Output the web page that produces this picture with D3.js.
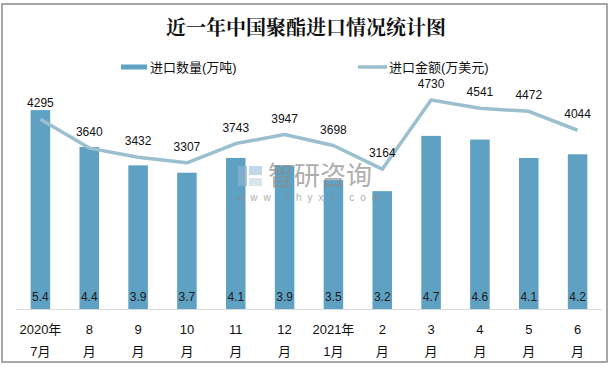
<!DOCTYPE html>
<html><head><meta charset="utf-8">
<script src="https://cdn.jsdelivr.net/npm/d3@7/dist/d3.min.js"></script>
<style>
html,body{margin:0;padding:0;background:#fff;}
svg{display:block;}
text{font-family:"Liberation Sans","Noto Sans CJK SC",sans-serif;}
</style></head>
<body>
<svg id="c" width="612" height="368"></svg>
<script>
const categories = ["2020年7月","8月","9月","10月","11月","12月","2021年1月","2月","3月","4月","5月","6月"];
const tickLine1 = ["2020年","8","9","10","11","12","2021年","2","3","4","5","6"];
const tickLine2 = ["7月","月","月","月","月","月","1月","月","月","月","月","月"];
const quantity = [5.4,4.4,3.9,3.7,4.1,3.9,3.5,3.2,4.7,4.6,4.1,4.2];
const amount = [4295,3640,3432,3307,3743,3947,3698,3164,4730,4541,4472,4044];
const seriesNames = ["进口数量(万吨)","进口金额(万美元)"];
const title = "近一年中国聚酯进口情况统计图";

const barColor = "#5ea1c2", lineColor = "#9bbfcf";
const svg = d3.select("#c");

// frame
svg.append("rect").attr("x",2).attr("y",4).attr("width",605).attr("height",358)
  .attr("fill","#fff").attr("stroke","#8a8a8a").attr("stroke-width",1.5);

const x = d3.scaleBand().domain(categories).range([16,602]).paddingInner(0.6).paddingOuter(0.3);
const yBar = d3.scaleLinear().domain([0,6]).range([309,88]);
const yLine = d3.scaleLinear().domain([0,5000]).range([309,88]);

// title
svg.append("text").attr("x",306).attr("y",35).attr("text-anchor","middle")
  .style("font-family",'"Noto Serif CJK SC","Noto Sans CJK SC",serif')
  .style("font-size","20px").style("font-weight","bold").attr("fill","#111").text(title);

// legend
const lg = svg.append("g");
lg.append("rect").attr("x",121).attr("y",64.5).attr("width",26).attr("height",5).attr("fill",barColor);
lg.append("text").attr("x",150).attr("y",71.5).style("font-size","13px").attr("fill","#111").text(seriesNames[0]);
lg.append("line").attr("x1",358).attr("x2",387).attr("y1",67).attr("y2",67).attr("stroke",lineColor).attr("stroke-width",3.5);
lg.append("text").attr("x",389).attr("y",71.5).style("font-size","13px").attr("fill","#111").text(seriesNames[1]);

// axis baseline
svg.append("line").attr("x1",16).attr("x2",602).attr("y1",309.5).attr("y2",309.5).attr("stroke","#d9d9d9").attr("stroke-width",1);

// bars
svg.append("g").selectAll("rect").data(quantity).join("rect")
  .attr("x",(d,i)=>x(categories[i])).attr("width",x.bandwidth())
  .attr("y",d=>yBar(d)).attr("height",d=>yBar(0)-yBar(d)).attr("fill",barColor);

// bar labels
svg.append("g").selectAll("text").data(quantity).join("text")
  .attr("x",(d,i)=>x(categories[i])+x.bandwidth()/2).attr("y",300.5)
  .attr("text-anchor","middle").style("font-size","12px").attr("fill","#1a1a1a")
  .text(d=>d.toFixed(1));

// line
const cx = i => x(categories[i])+x.bandwidth()/2;
svg.append("path").datum(amount)
  .attr("d",d3.line().x((d,i)=>cx(i)).y(d=>yLine(d)))
  .attr("fill","none").attr("stroke",lineColor).attr("stroke-width",3.5).attr("stroke-linejoin","round");

svg.append("g").selectAll("text").data(amount).join("text")
  .attr("x",(d,i)=>cx(i)).attr("y",d=>yLine(d)-12)
  .attr("text-anchor","middle").style("font-size","12px").attr("fill","#111")
  .text(d=>d);

// x tick labels
const xl = svg.append("g");
xl.selectAll("text.l1").data(tickLine1).join("text").attr("class","l1")
  .attr("x",(d,i)=>cx(i)).attr("y",334).attr("text-anchor","middle")
  .style("font-size","13px").attr("fill","#111").text(d=>d);
xl.selectAll("text.l2").data(tickLine2).join("text").attr("class","l2")
  .attr("x",(d,i)=>cx(i)).attr("y",356).attr("text-anchor","middle")
  .style("font-size","13px").attr("fill","#111").text(d=>d);

// watermark
const wm = svg.append("g").attr("opacity",0.7);
wm.append("rect").attr("x",238).attr("y",166).attr("width",9).attr("height",20).attr("fill","#8fb3d0");
wm.append("rect").attr("x",249).attr("y",166).attr("width",13).attr("height",9).attr("fill","#a9c8e0");
wm.append("rect").attr("x",249).attr("y",178).attr("width",13).attr("height",8).attr("fill","#c7dbe9");
wm.append("text").attr("x",268).attr("y",185).style("font-size","26px")
  .style("font-family",'"Noto Sans CJK SC",sans-serif').attr("fill","#8c8c8c").text("智研咨询");
wm.append("text").attr("x",237).attr("y",201).style("font-size","10px")
  .style("letter-spacing","6px").attr("fill","#8c8c8c").text("www.chyxx.com");
</script>
</body></html>
